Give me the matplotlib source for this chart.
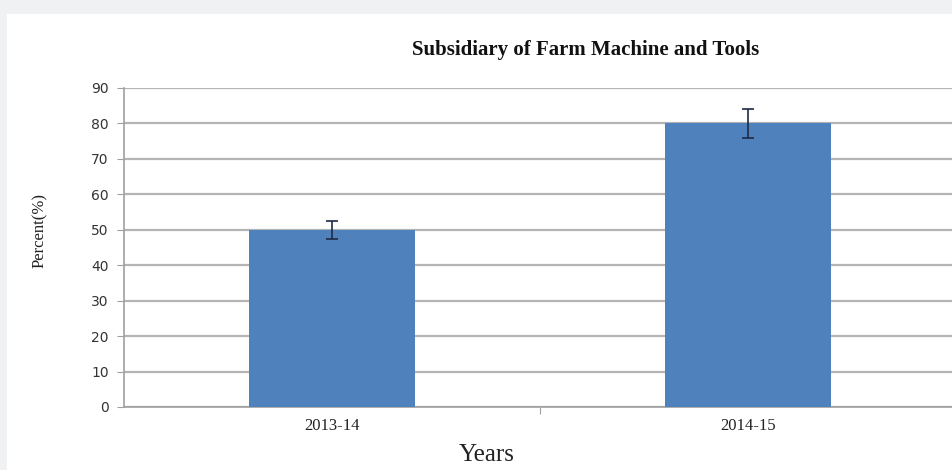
import matplotlib
import matplotlib.pyplot as plt
from matplotlib.patches import Rectangle

matplotlib.use('Agg')

years = ["2013-14", "2014-15"]
percent = [50, 80]
errors = [2.5, 4]
y_ticks = [0, 10, 20, 30, 40, 50, 60, 70, 80, 90]

W, H = 953, 470
fig = plt.figure(figsize=(W / 100, H / 100), dpi=100)
fig.patch.set_facecolor('#f0f1f3')

# white chart panel
fig.patches.append(Rectangle((7 / W, 0), 1, (H - 14) / H, transform=fig.transFigure,
                             facecolor='white', edgecolor='none', zorder=-5))

ax = fig.add_axes([124 / W, 63 / H, 832 / W, 319 / H])
ax.set_facecolor('none')
ax.set_zorder(2)

x = list(range(len(years)))
ax.bar(x, percent, width=0.40, color='#4f81bd', zorder=3)
ax.errorbar(x, percent, yerr=errors, fmt='none', ecolor='#1f2a44', elinewidth=1.2,
            capsize=4, capthick=1.2, zorder=4)

ax.set_xlim(-0.5, 1.5)
ax.set_ylim(0, 90)
ax.set_yticks(y_ticks)
ax.yaxis.grid(True, color='#b4b4b4', linewidth=1.6, zorder=1)
ax.set_axisbelow(True)

for s in ['top', 'right']:
    ax.spines[s].set_visible(False)
ax.spines['left'].set_color('#a0a0a0')
ax.spines['bottom'].set_color('#a0a0a0')
ax.spines['left'].set_linewidth(1.2)
ax.spines['bottom'].set_linewidth(1.2)

ax.tick_params(axis='y', length=5, color='#a0a0a0', labelsize=10, labelcolor='#333333', pad=6)
ax.set_xticks([0.5])
ax.set_xticklabels([''])
ax.tick_params(axis='x', length=5, color='#a0a0a0')
for xi, lab in zip(x, years):
    ax.text(xi, -3.0, lab, ha='center', va='top', fontsize=12, family='Liberation Serif',
            color='#222222', transform=ax.transData)

fig.text(586 / W, 1 - 50 / H, "Subsidiary of Farm Machine and Tools", ha='center', va='center',
         fontsize=15, fontweight='bold', family='Liberation Serif', color='#111111')
fig.text(40 / W, 1 - 230 / H, "Percent(%)", rotation=90, ha='center', va='center',
         fontsize=12, family='Liberation Serif', color='#222222')
fig.text(487 / W, 9 / H, "Years", ha='center', va='baseline',
         fontsize=18, family='Liberation Serif', color='#222222')

plt.savefig('out.png', dpi=100)
plt.close()
